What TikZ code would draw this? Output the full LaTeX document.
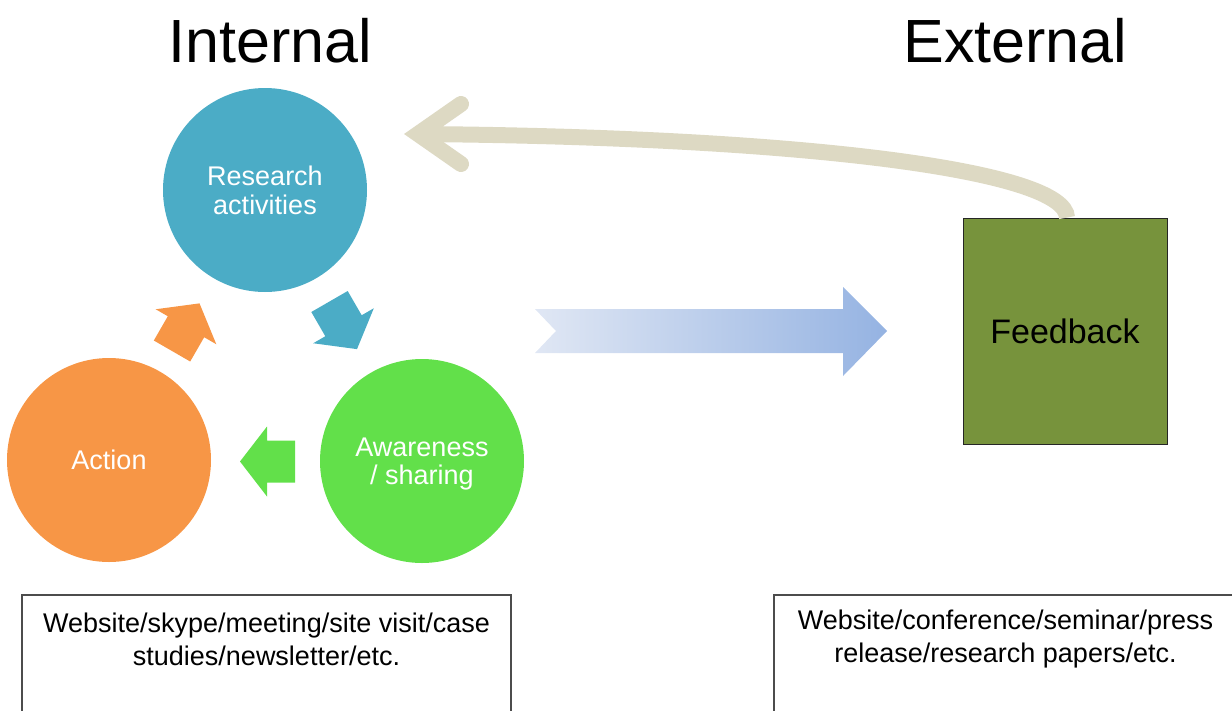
\documentclass[tikz,border=0pt]{standalone}
\usepackage{fontspec}
\setmainfont{Liberation Sans}
\usetikzlibrary{calc}
\definecolor{cblue}{HTML}{4BACC6}
\definecolor{corange}{HTML}{F79646}
\definecolor{cgreen}{HTML}{62E04A}
\definecolor{colive}{HTML}{77933C}
\definecolor{ccurve}{HTML}{DDD9C3}
\definecolor{gleft}{HTML}{E0E7F4}
\definecolor{gright}{HTML}{95B3E2}
\begin{document}
\begin{tikzpicture}[x=1pt,y=-1pt,
  circ/.style={circle, minimum size=204pt, inner sep=0pt, text=white, align=center,
    text depth=0pt, font=\fontsize{27}{28.5}\selectfont},
  title/.style={anchor=base, font=\fontsize{61}{70}\selectfont},
  infotext/.style={align=center, font=\fontsize{27}{33}\selectfont},
  infobox/.style={draw=black!70, line width=1.2pt},
  curvearrow/.style={draw=ccurve, line width=16pt}
]
\useasboundingbox (0,0) rectangle (1232,710);

% titles
\node[title] (tint) at (270,62) {Internal};
\node[title] (text) at (1015.5,62) {External};

% circles
\node[circ, fill=cblue] (research) at (265,190) {Research\\activities};
\node[circ, fill=corange] (action) at (109,460) {Action};
\node[circ, fill=cgreen] (aware) at (422,461) {Awareness\\/ sharing};

% small block arrows
\fill[corange, shift={(172,351)}, rotate=60]
  (0,-21) -- (28,-21) -- (28,-35) -- (55,0) -- (28,35) -- (28,21) -- (0,21) -- cycle;
\fill[cblue, shift={(329.5,301.5)}, rotate=-60]
  (0,-21) -- (28,-21) -- (28,-35) -- (55,0) -- (28,35) -- (28,21) -- (0,21) -- cycle;
\fill[cgreen, shift={(295,461.5)}, rotate=180]
  (0,-21) -- (28,-21) -- (28,-35) -- (55,0) -- (28,35) -- (28,21) -- (0,21) -- cycle;

% big gradient arrow
\shade[left color=gleft, right color=gright]
  (535,309) -- (843,309) -- (843,287) -- (887,331) -- (843,376) -- (843,353)
  -- (535,353) -- (556,331) -- cycle;

% feedback box
\node[draw=black!85, line width=0.8pt, fill=colive, minimum width=204pt, minimum height=226pt,
  inner sep=0pt, font=\fontsize{34}{40}\selectfont] (fb) at (1065,331) {Feedback};

% curved arrow back to research
\coordinate (fbend) at (418,134);
\draw[curvearrow] ([xshift=2pt]fb.north) .. controls (1066,170) and (800,137) .. (fbend);
\draw[curvearrow, line cap=round, line join=miter]
  ($(fbend)+(43,-30)$) -- (fbend) -- ($(fbend)+(43,30)$);

% bottom boxes
\draw[infobox] (22,716) -- (22,595) -- (511,595) -- (511,716);
\draw[infobox] (774,716) -- (774,595) -- (1240,595);
\node[infotext] (lefttext) at (266.5,639) {Website/skype/meeting/site visit/case\\studies/newsletter/etc.};
\node[infotext] (righttext) at (1005.5,639) {Website/conference/seminar/press\\release/research papers/etc.};
\end{tikzpicture}
\end{document}
